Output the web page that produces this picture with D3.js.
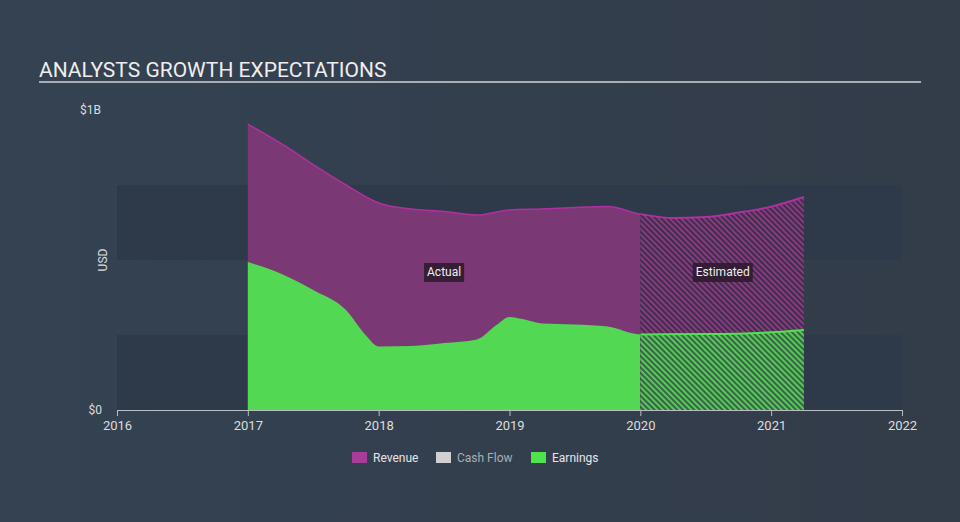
<!DOCTYPE html>
<html lang="en">
<head>
<meta charset="UTF-8">
<title>Analysts Growth Expectations</title>
<style>
    body { margin: 0; background: #344252; font-family: Roboto, "Open Sans", sans-serif; }
    svg { display: block; }
</style>
</head>
<body>
<svg id="chart" width="960" height="522"></svg>
<script src="https://cdnjs.cloudflare.com/ajax/libs/d3/7.0.4/d3.min.js"></script>
<script>
// data (values in $ millions, dates as fractional years)
const revenueDates = [2017.0, 2017.3, 2017.5, 2017.75, 2018.0, 2018.25, 2018.5, 2018.75, 2019.0, 2019.25, 2019.5, 2019.75, 2020.0, 2020.25, 2020.5, 2020.75, 2021.0, 2021.25];
const revenueValues = [953, 876, 818, 750, 690, 670, 662, 650, 667, 670, 675, 678, 653, 640, 643, 658, 678, 710];
const earningsDates = [2017.0, 2017.25, 2017.5, 2017.75, 2017.9, 2018.0, 2018.25, 2018.5, 2018.75, 2018.9, 2019.0, 2019.1, 2019.25, 2019.5, 2019.75, 2020.0, 2020.5, 2021.0, 2021.25];
const earningsValues = [493, 455, 400, 333, 250, 212, 213, 223, 235, 283, 310, 303, 288, 285, 278, 252, 253, 259, 267];
const tickYears = [2016, 2017, 2018, 2019, 2020, 2021, 2022];
const legendNames = ['Revenue', 'Cash Flow', 'Earnings'];
const legendColors = ['#a83d99', '#d0d0d0', '#4ee44e'];
const estimateStart = 2020;

const svg = d3.select('#chart');

// background gradient, a bit darker on the right
const defs = svg.append('defs');
const bg = defs.append('linearGradient').attr('id', 'bg').attr('x1', 0).attr('x2', 1);
bg.append('stop').attr('offset', 0).attr('stop-color', '#344252');
bg.append('stop').attr('offset', 1).attr('stop-color', '#333c49');
svg.append('rect').attr('width', 960).attr('height', 522).attr('fill', 'url(#bg)');

// hatch patterns
function hatch(id, color, back) {
    const p = defs.append('pattern').attr('id', id)
        .attr('patternUnits', 'userSpaceOnUse')
        .attr('width', 4).attr('height', 4)
        .attr('patternTransform', 'rotate(45)');
    p.append('rect').attr('width', 4).attr('height', 4).attr('fill', back);
    p.append('rect').attr('width', 4).attr('height', 1.8).attr('fill', color);
}
hatch('hatchRev', '#93398a', '#3d3049');
hatch('hatchEarn', '#5ad25a', '#3a6448');

const x = d3.scaleLinear().domain([2016, 2022]).range([117, 902]);
const y = d3.scaleLinear().domain([0, 1000]).range([410, 110]);

// plot bands
const bands = [[500, 750], [0, 250]];
svg.selectAll('.band').data(bands).enter().append('rect')
    .attr('x', x(2016)).attr('width', x(2022) - x(2016))
    .attr('y', d => y(d[1])).attr('height', d => y(d[0]) - y(d[1]))
    .attr('fill', '#2e3a4a');

// title
svg.append('text').attr('x', 39).attr('y', 77)
    .attr('fill', '#eeeeee').style('font-size', '21px')
    .text('ANALYSTS GROWTH EXPECTATIONS');
svg.append('line').attr('x1', 39).attr('x2', 921).attr('y1', 82).attr('y2', 82)
    .attr('stroke', '#a9aeb5').attr('stroke-width', 2);

const revenue = revenueDates.map((d, i) => ({ t: d, v: revenueValues[i] }));
const earnings = earningsDates.map((d, i) => ({ t: d, v: earningsValues[i] }));

const area = d3.area().curve(d3.curveMonotoneX)
    .x(d => x(d.t)).y0(y(0)).y1(d => y(d.v));
const line = d3.line().curve(d3.curveMonotoneX)
    .x(d => x(d.t)).y(d => y(d.v));

// clip paths for actual / estimated parts
defs.append('clipPath').attr('id', 'clipA').append('rect')
    .attr('x', 0).attr('y', 0).attr('width', x(estimateStart)).attr('height', 522);
defs.append('clipPath').attr('id', 'clipE').append('rect')
    .attr('x', x(estimateStart)).attr('y', 0).attr('width', 960).attr('height', 522);

const gA = svg.append('g').attr('clip-path', 'url(#clipA)');
gA.append('path').datum(revenue).attr('d', area).attr('fill', '#7a3875');
gA.append('path').datum(revenue).attr('d', line).attr('fill', 'none').attr('stroke', '#b0309f').attr('stroke-width', 1.5);
gA.append('path').datum(earnings).attr('d', area).attr('fill', '#52d852');

const gE = svg.append('g').attr('clip-path', 'url(#clipE)');
gE.append('path').datum(revenue).attr('d', area).attr('fill', 'url(#hatchRev)');
gE.append('path').datum(revenue).attr('d', line).attr('fill', 'none').attr('stroke', '#b0309f').attr('stroke-width', 2);
gE.append('path').datum(earnings).attr('d', area).attr('fill', 'url(#hatchEarn)');
gE.append('path').datum(earnings).attr('d', line).attr('fill', 'none').attr('stroke', '#4ee44e').attr('stroke-width', 2);

// actual / estimated labels
function tag(cx, txt) {
    const g = svg.append('g');
    const t = g.append('text').attr('x', cx).attr('y', 276)
        .attr('text-anchor', 'middle').attr('fill', '#eeeeee')
        .style('font-size', '12px').text(txt);
    const b = t.node().getBBox();
    g.insert('rect', 'text').attr('x', b.x - 3).attr('y', 263)
        .attr('width', b.width + 6).attr('height', 19)
        .attr('fill', '#2a1a2a').attr('opacity', 0.85);
}
tag(x(2018.5), 'Actual');
tag(x(2020.63), 'Estimated');

// x axis
const xAxis = svg.append('g').attr('transform', 'translate(0,' + y(0) + ')')
    .call(d3.axisBottom(x).tickValues(tickYears).tickFormat(d3.format('d')).tickSize(6).tickSizeOuter(0));
xAxis.select('.domain').attr('stroke', '#b8bec6');
xAxis.selectAll('.tick line').attr('stroke', '#b8bec6');
xAxis.selectAll('.tick text').attr('fill', '#dddddd').attr('dy', '0.85em')
    .style('font-size', '13px').style('font-family', 'Roboto, sans-serif');

// y labels
svg.append('text').attr('x', 101).attr('y', 114).attr('text-anchor', 'end')
    .attr('fill', '#dddddd').style('font-size', '12px').text('$1B');
svg.append('text').attr('x', 102).attr('y', 414).attr('text-anchor', 'end')
    .attr('fill', '#dddddd').style('font-size', '12px').text('$0');
svg.append('text').attr('transform', 'translate(107,260) rotate(-90)')
    .attr('text-anchor', 'middle').attr('fill', '#dddddd')
    .style('font-size', '12px').text('USD');

// legend
const legendX = [352, 436, 531];
const lg = svg.selectAll('.leg').data(legendNames).enter().append('g')
    .attr('transform', (d, i) => 'translate(' + legendX[i] + ',452)');
lg.append('rect').attr('width', 15).attr('height', 11)
    .attr('fill', (d, i) => legendColors[i]);
lg.append('text').attr('x', 21).attr('y', 10)
    .attr('fill', (d, i) => i === 1 ? '#a8aeb6' : '#e6e6e6')
    .style('font-size', '12px').text(d => d);
</script>
</body>
</html>
